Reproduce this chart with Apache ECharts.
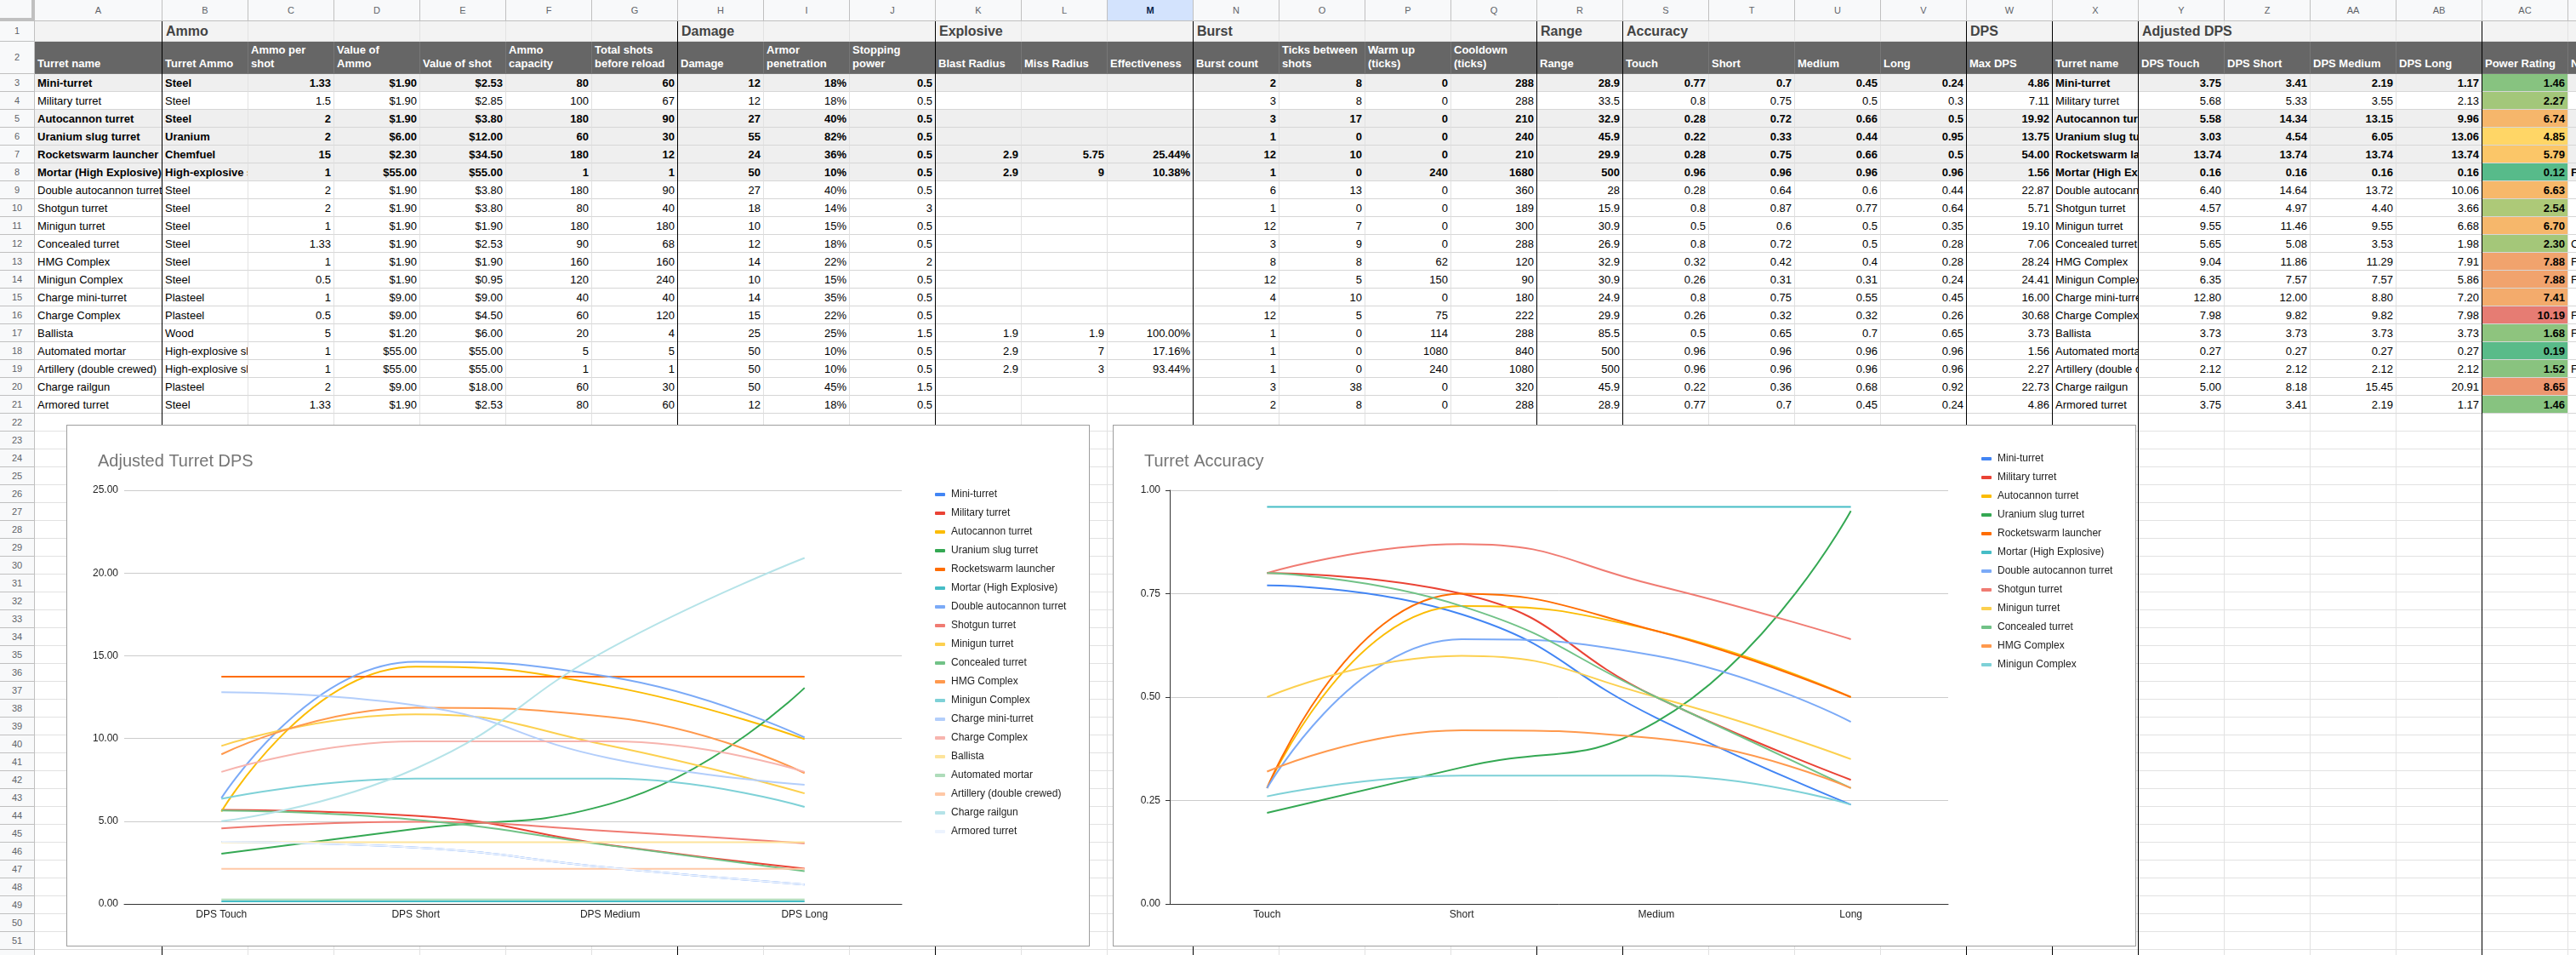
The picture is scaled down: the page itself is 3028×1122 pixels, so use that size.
<!DOCTYPE html>
<html>
<head>
<meta charset="utf-8">
<script src="https://cdn.jsdelivr.net/npm/echarts@6/dist/echarts.min.js"></script>
<style>
body { margin: 0; width: 3028px; height: 1122px; overflow: hidden; background: #fff; font-family: "Liberation Sans", Arial, sans-serif; }
#sheet { position: absolute; left: 0; top: 0; width: 3028px; height: 1122px; overflow: hidden; }
.c { position: absolute; box-sizing: border-box; border-right: 1px solid #e2e2e2; border-bottom: 1px solid #e2e2e2;
     font-size: 13px; line-height: 15px; color: #000; white-space: nowrap; overflow: hidden;
     display: flex; align-items: flex-end; padding: 0 3px 2px 3px; }
.r { justify-content: flex-end; }
.h { background: #f8f9fa; border-color: #c0c0c0; color: #5f6368; font-size: 11px; justify-content: center; align-items: center; padding: 0; }
.hd { background: #666666; color: #fff; font-weight: bold; white-space: pre-line; line-height: 16px; padding-bottom: 3px; border-color: #777; }
.sec { position: absolute; font-size: 16px; font-weight: bold; color: #434343; white-space: nowrap; }
.vb { position: absolute; width: 1px; background: #000; top: 25px; height: 1097px; }
.chart { position: absolute; box-sizing: border-box; border: 1px solid #9e9e9e; background: #fff; }
</style>
</head>
<body>
<div id="sheet"></div>
<div id="dpsChart" class="chart" style="left:78px;top:499px;width:1203px;height:613px;"></div>
<div id="accChart" class="chart" style="left:1308px;top:499px;width:1203px;height:613px;"></div>
<script>
// turret table, one array per column
const turretNames = ['Mini-turret', 'Military turret', 'Autocannon turret', 'Uranium slug turret', 'Rocketswarm launcher',
    'Mortar (High Explosive)', 'Double autocannon turret', 'Shotgun turret', 'Minigun turret', 'Concealed turret',
    'HMG Complex', 'Minigun Complex', 'Charge mini-turret', 'Charge Complex', 'Ballista', 'Automated mortar',
    'Artillery (double crewed)', 'Charge railgun', 'Armored turret'];
const turretAmmo = ['Steel', 'Steel', 'Steel', 'Uranium', 'Chemfuel', 'High-explosive shell', 'Steel', 'Steel', 'Steel',
    'Steel', 'Steel', 'Steel', 'Plasteel', 'Plasteel', 'Wood', 'High-explosive shell', 'High-explosive shell', 'Plasteel', 'Steel'];
const ammoPerShot = [1.33, 1.5, 2, 2, 15, 1, 2, 2, 1, 1.33, 1, 0.5, 1, 0.5, 5, 1, 1, 2, 1.33];
const ammoValue = [1.9, 1.9, 1.9, 6, 2.3, 55, 1.9, 1.9, 1.9, 1.9, 1.9, 1.9, 9, 9, 1.2, 55, 55, 9, 1.9];
const shotValue = [2.53, 2.85, 3.8, 12, 34.5, 55, 3.8, 3.8, 1.9, 2.53, 1.9, 0.95, 9, 4.5, 6, 55, 55, 18, 2.53];
const ammoCapacity = [80, 100, 180, 60, 180, 1, 180, 80, 180, 90, 160, 120, 40, 60, 20, 5, 1, 60, 80];
const shotsBeforeReload = [60, 67, 90, 30, 12, 1, 90, 40, 180, 68, 160, 240, 40, 120, 4, 5, 1, 30, 60];
const damage = [12, 12, 27, 55, 24, 50, 27, 18, 10, 12, 14, 10, 14, 15, 25, 50, 50, 50, 12];
const armorPen = [18, 18, 40, 82, 36, 10, 40, 14, 15, 18, 22, 15, 35, 22, 25, 10, 10, 45, 18];
const stoppingPower = [0.5, 0.5, 0.5, 0.5, 0.5, 0.5, 0.5, 3, 0.5, 0.5, 2, 0.5, 0.5, 0.5, 1.5, 0.5, 0.5, 1.5, 0.5];
const blastRadius = [null, null, null, null, 2.9, 2.9, null, null, null, null, null, null, null, null, 1.9, 2.9, 2.9, null, null];
const missRadius = [null, null, null, null, 5.75, 9, null, null, null, null, null, null, null, null, 1.9, 7, 3, null, null];
const effectiveness = [null, null, null, null, 25.44, 10.38, null, null, null, null, null, null, null, null, 100, 17.16, 93.44, null, null];
const burstCount = [2, 3, 3, 1, 12, 1, 6, 1, 12, 3, 8, 12, 4, 12, 1, 1, 1, 3, 2];
const ticksBetweenShots = [8, 8, 17, 0, 10, 0, 13, 0, 7, 9, 8, 5, 10, 5, 0, 0, 0, 38, 8];
const warmUpTicks = [0, 0, 0, 0, 0, 240, 0, 0, 0, 0, 62, 150, 0, 75, 114, 1080, 240, 0, 0];
const cooldownTicks = [288, 288, 210, 240, 210, 1680, 360, 189, 300, 288, 120, 90, 180, 222, 288, 840, 1080, 320, 288];
const range = [28.9, 33.5, 32.9, 45.9, 29.9, 500, 28, 15.9, 30.9, 26.9, 32.9, 30.9, 24.9, 29.9, 85.5, 500, 500, 45.9, 28.9];
const accTouch = [0.77, 0.8, 0.28, 0.22, 0.28, 0.96, 0.28, 0.8, 0.5, 0.8, 0.32, 0.26, 0.8, 0.26, 0.5, 0.96, 0.96, 0.22, 0.77];
const accShort = [0.7, 0.75, 0.72, 0.33, 0.75, 0.96, 0.64, 0.87, 0.6, 0.72, 0.42, 0.31, 0.75, 0.32, 0.65, 0.96, 0.96, 0.36, 0.7];
const accMedium = [0.45, 0.5, 0.66, 0.44, 0.66, 0.96, 0.6, 0.77, 0.5, 0.5, 0.4, 0.31, 0.55, 0.32, 0.7, 0.96, 0.96, 0.68, 0.45];
const accLong = [0.24, 0.3, 0.5, 0.95, 0.5, 0.96, 0.44, 0.64, 0.35, 0.28, 0.28, 0.24, 0.45, 0.26, 0.65, 0.96, 0.96, 0.92, 0.24];
const maxDps = [4.86, 7.11, 19.92, 13.75, 54, 1.56, 22.87, 5.71, 19.1, 7.06, 28.24, 24.41, 16, 30.68, 3.73, 1.56, 2.27, 22.73, 4.86];
const dpsTouch = [3.75, 5.68, 5.58, 3.03, 13.74, 0.16, 6.40, 4.57, 9.55, 5.65, 9.04, 6.35, 12.80, 7.98, 3.73, 0.27, 2.12, 5.00, 3.75];
const dpsShort = [3.41, 5.33, 14.34, 4.54, 13.74, 0.16, 14.64, 4.97, 11.46, 5.08, 11.86, 7.57, 12.00, 9.82, 3.73, 0.27, 2.12, 8.18, 3.41];
const dpsMedium = [2.19, 3.55, 13.15, 6.05, 13.74, 0.16, 13.72, 4.40, 9.55, 3.53, 11.29, 7.57, 8.80, 9.82, 3.73, 0.27, 2.12, 15.45, 2.19];
const dpsLong = [1.17, 2.13, 9.96, 13.06, 13.74, 0.16, 10.06, 3.66, 6.68, 1.98, 7.91, 5.86, 7.20, 7.98, 3.73, 0.27, 2.12, 20.91, 1.17];
const powerRating = [1.46, 2.27, 6.74, 4.85, 5.79, 0.12, 6.63, 2.54, 6.70, 2.30, 7.88, 7.88, 7.41, 10.19, 1.68, 0.19, 1.52, 8.65, 1.46];
const notes = ['', '', '', '', '', 'F', '', '', '', 'C', 'F', 'F', '', 'F', 'F', '', 'F', '', ''];

const headers = ['Turret name', 'Turret Ammo', 'Ammo per\nshot', 'Value of\nAmmo', 'Value of shot', 'Ammo\ncapacity',
    'Total shots\nbefore reload', 'Damage', 'Armor\npenetration', 'Stopping\npower', 'Blast Radius', 'Miss Radius',
    'Effectiveness', 'Burst count', 'Ticks between\nshots', 'Warm up\n(ticks)', 'Cooldown\n(ticks)', 'Range', 'Touch',
    'Short', 'Medium', 'Long', 'Max DPS', 'Turret name', 'DPS Touch', 'DPS Short', 'DPS Medium', 'DPS Long',
    'Power Rating', 'Notes'];
const sections = [[1, 'Ammo'], [7, 'Damage'], [10, 'Explosive'], [13, 'Burst'], [17, 'Range'], [18, 'Accuracy'], [22, 'DPS'], [24, 'Adjusted DPS']];
const borderCols = [1, 7, 10, 13, 17, 18, 22, 23, 24, 28];
const boldRows = [0, 2, 3, 4, 5];

// chart axes
const dpsCats = ['DPS Touch', 'DPS Short', 'DPS Medium', 'DPS Long'];
const accCats = ['Touch', 'Short', 'Medium', 'Long'];
const accTurretCount = 12;

const palette = ['#4285f4', '#ea4335', '#fbbc04', '#34a853', '#ff6d01', '#46bdc6', '#7baaf7', '#f07b72', '#fcd04f',
    '#71c287', '#ff994d', '#7ed1d7', '#b3cefb', '#f7b4ae', '#fde49b', '#aedcba', '#ffc8a6', '#b5e3e8', '#ecf3fe'];

const colLetters = [];
for (let i = 0; i < 30; i++) {
    colLetters.push(i < 26 ? String.fromCharCode(65 + i) : 'A' + String.fromCharCode(65 + i - 26));
}
const colW = colLetters.map((_, i) => i === 0 ? 150 : 101);
const colLeft = [];
let cx = 41;
colW.forEach(w => { colLeft.push(cx); cx += w; });

const rowTop = r => r === 1 ? 25 : r === 2 ? 49 : 87 + (r - 3) * 21;
const rowH = r => r === 1 ? 24 : r === 2 ? 38 : 21;

const columns = [turretNames, turretAmmo, ammoPerShot, ammoValue, shotValue, ammoCapacity, shotsBeforeReload, damage,
    armorPen, stoppingPower, blastRadius, missRadius, effectiveness, burstCount, ticksBetweenShots, warmUpTicks,
    cooldownTicks, range, accTouch, accShort, accMedium, accLong, maxDps, turretNames, dpsTouch, dpsShort, dpsMedium,
    dpsLong, powerRating, notes];
const textCols = [0, 1, 23, 29];

const fmt = (c, v) => {
    if (v === null || v === undefined || v === '') return '';
    if (c === 3 || c === 4) return '$' + v.toFixed(2);
    if (c === 8) return v + '%';
    if (c === 12) return v.toFixed(2) + '%';
    if (c === 22 || (c >= 24 && c <= 28)) return v.toFixed(2);
    return String(v);
};

// sheets default colour scale: min green, median yellow, max red
const scaleColor = (v) => {
    const sorted = [...powerRating].sort((a, b) => a - b);
    const lo = sorted[0], mid = sorted[Math.floor(sorted.length / 2)], hi = sorted[sorted.length - 1];
    const g = [0x57, 0xbb, 0x8a], y = [0xff, 0xd6, 0x66], r = [0xe6, 0x7c, 0x73];
    let a, b, t;
    if (v <= mid) { a = g; b = y; t = (v - lo) / (mid - lo); } else { a = y; b = r; t = (v - mid) / (hi - mid); }
    const m = a.map((x, i) => Math.round(x + (b[i] - x) * t));
    return `rgb(${m[0]},${m[1]},${m[2]})`;
};

const sheet = document.getElementById('sheet');
const cell = (x, y, w, h, cls, text, style) => {
    const d = document.createElement('div');
    d.className = cls;
    d.style.left = x + 'px';
    d.style.top = y + 'px';
    d.style.width = w + 'px';
    d.style.height = h + 'px';
    if (style) Object.assign(d.style, style);
    if (text !== undefined) d.textContent = text;
    sheet.appendChild(d);
    return d;
};

// corner + column letters
cell(0, 0, 41, 25, 'c h', '', { borderRight: '4px solid #c0c0c0', borderBottom: '4px solid #c0c0c0' });
colLetters.forEach((l, i) => {
    const sel = l === 'M';
    cell(colLeft[i], 0, colW[i], 25, 'c h', l, sel ? { background: '#d3e3fd', color: '#041e49', fontWeight: 'bold' } : null);
});

for (let r = 1; r <= 52; r++) {
    const y = rowTop(r), h = rowH(r);
    cell(0, y, 41, h, 'c h', String(r));
    colLetters.forEach((_, c) => {
        const x = colLeft[c], w = colW[c];
        if (r === 1) {
            cell(x, y, w, h, 'c', '', { background: '#f3f3f3' });
        } else if (r === 2) {
            cell(x, y, w, h, 'c hd', headers[c]);
        } else if (r <= 21) {
            const i = r - 3;
            const bold = boldRows.includes(i);
            const style = {};
            if (bold) { style.background = '#efefef'; style.fontWeight = 'bold'; }
            if (c === 28) { style.background = scaleColor(powerRating[i]); style.fontWeight = 'bold'; }
            style.borderBottomColor = '#d6d6d6';
            cell(x, y, w, h, textCols.includes(c) ? 'c' : 'c r', fmt(c, columns[c][i]), style);
        } else {
            cell(x, y, w, h, 'c', '');
        }
    });
}

sections.forEach(([c, label]) => {
    const d = document.createElement('div');
    d.className = 'sec';
    d.style.left = (colLeft[c] + 4) + 'px';
    d.style.top = '28px';
    d.textContent = label;
    sheet.appendChild(d);
});

borderCols.forEach(c => {
    const d = document.createElement('div');
    d.className = 'vb';
    d.style.left = (colLeft[c] - 1) + 'px';
    sheet.appendChild(d);
});

// charts
const baseFont = { fontFamily: 'Liberation Sans, Arial, sans-serif' };

const makeChart = (id, title, cats, names, seriesValues, yMax, yInterval, legendTop, yAxisLine, gridLeft) => {
    const chart = echarts.init(document.getElementById(id));
    const option = {
        animation: false,
        color: palette,
        textStyle: baseFont,
        title: {
            text: title, left: 31, top: 27,
            textStyle: { fontSize: 20, fontWeight: 'normal', color: '#757575', ...baseFont }
        },
        legend: {
            orient: 'vertical', left: 1015, top: legendTop,
            icon: 'roundRect', itemWidth: 12, itemHeight: 4, itemGap: 10,
            textStyle: { fontSize: 12, color: '#222', padding: [0, 0, 0, 2], ...baseFont },
            data: names
        },
        grid: { left: gridLeft, right: 220, top: 76, bottom: 49, containLabel: false },
        xAxis: {
            type: 'category', data: cats, boundaryGap: true,
            axisLine: { lineStyle: { color: '#333', width: 1 } },
            axisTick: { show: false },
            axisLabel: { color: '#222', fontSize: 12, margin: 7, ...baseFont }
        },
        yAxis: {
            type: 'value', min: 0, max: yMax, interval: yInterval,
            axisLine: { show: yAxisLine, lineStyle: { color: '#333' } },
            axisTick: { show: yAxisLine, length: 5, lineStyle: { color: '#333' } },
            axisLabel: { color: '#222', fontSize: 12, margin: yAxisLine ? 11 : 7, formatter: v => v.toFixed(2), ...baseFont },
            splitLine: { lineStyle: { color: '#cccccc' } }
        },
        series: names.map((n, i) => ({
            name: n, type: 'line', smooth: 0.5, showSymbol: false,
            lineStyle: { width: 2 },
            emphasis: { disabled: true },
            data: seriesValues[i]
        }))
    };
    chart.setOption(option);
};

const dpsValues = turretNames.map((_, i) => [dpsTouch[i], dpsShort[i], dpsMedium[i], dpsLong[i]]);
const accNames = turretNames.slice(0, accTurretCount);
const accValues = accNames.map((_, i) => [accTouch[i], accShort[i], accMedium[i], accLong[i]]);

makeChart('dpsChart', 'Adjusted Turret DPS', dpsCats, turretNames, dpsValues, 25, 5, 70, false, 67);
makeChart('accChart', 'Turret Accuracy', accCats, accNames, accValues, 1, 0.25, 28, true, 66);
</script>
</body>
</html>
